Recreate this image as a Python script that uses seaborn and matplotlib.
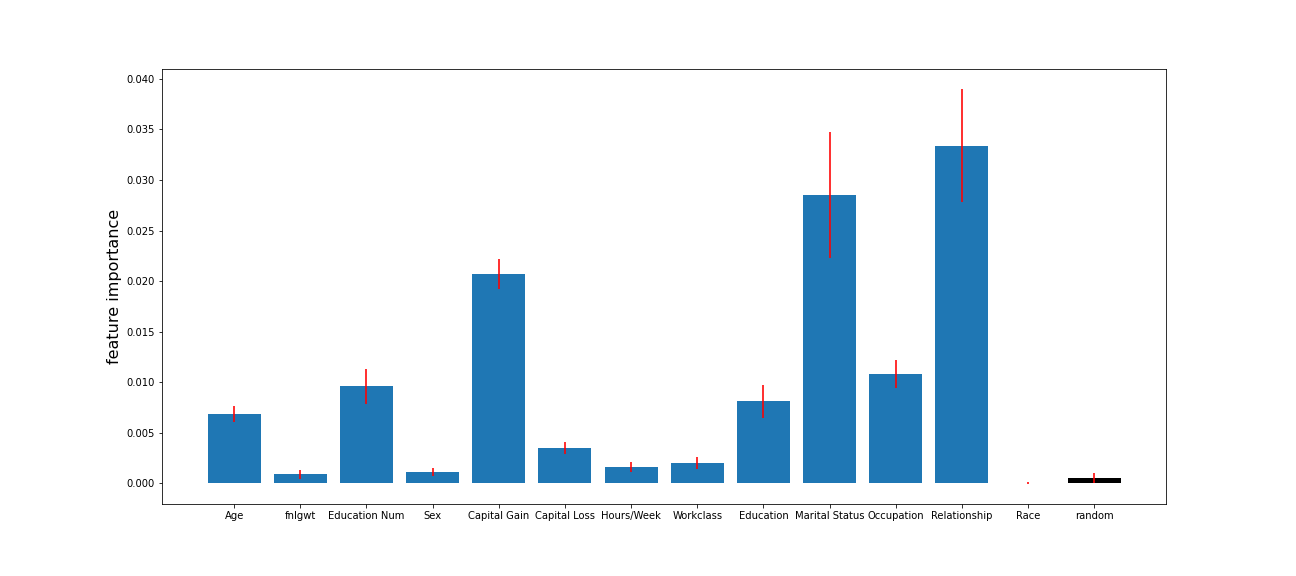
import numpy as np
import pandas as pd
import seaborn as sns
import matplotlib
matplotlib.use("Agg")
import matplotlib.pyplot as plt

# Importancia de variables
features = ['Age', 'fnlgwt', 'Education Num', 'Sex', 'Capital Gain', 'Capital Loss',
            'Hours/Week', 'Workclass', 'Education', 'Marital Status', 'Occupation',
            'Relationship', 'Race', 'random']
importance = [0.0069, 0.0009, 0.0096, 0.0011, 0.0207, 0.0035, 0.0016, 0.0020,
              0.0081, 0.0285, 0.0108, 0.0334, 0.00002, 0.0005]
importance_std = [0.0008, 0.00045, 0.0017, 0.0004, 0.0015, 0.0006, 0.0005, 0.0006,
                  0.0016, 0.0062, 0.0014, 0.0056, 0.0001, 0.0005]

df = pd.DataFrame({'feature': features, 'importance': importance, 'std': importance_std})
colores = ['#1f77b4'] * (len(features) - 1) + ['black']

fig, ax = plt.subplots(figsize=(18, 8), dpi=72)
fig.subplots_adjust(left=0.125, right=0.9, top=0.88, bottom=0.125)

sns.barplot(data=df, x='feature', y='importance', hue='feature', palette=colores,
            legend=False, saturation=1, width=0.8, ax=ax)
ax.errorbar(np.arange(len(features)), df['importance'], yerr=df['std'],
            fmt='none', ecolor='red', alpha=0.8, lw=2)

ax.set_xlim(-1.09, len(features) + 0.09)
ax.set_xlabel('')
ax.set_ylabel('feature importance', fontsize=16)
ax.tick_params(labelsize=10)

plt.savefig('out.png', dpi=72)
